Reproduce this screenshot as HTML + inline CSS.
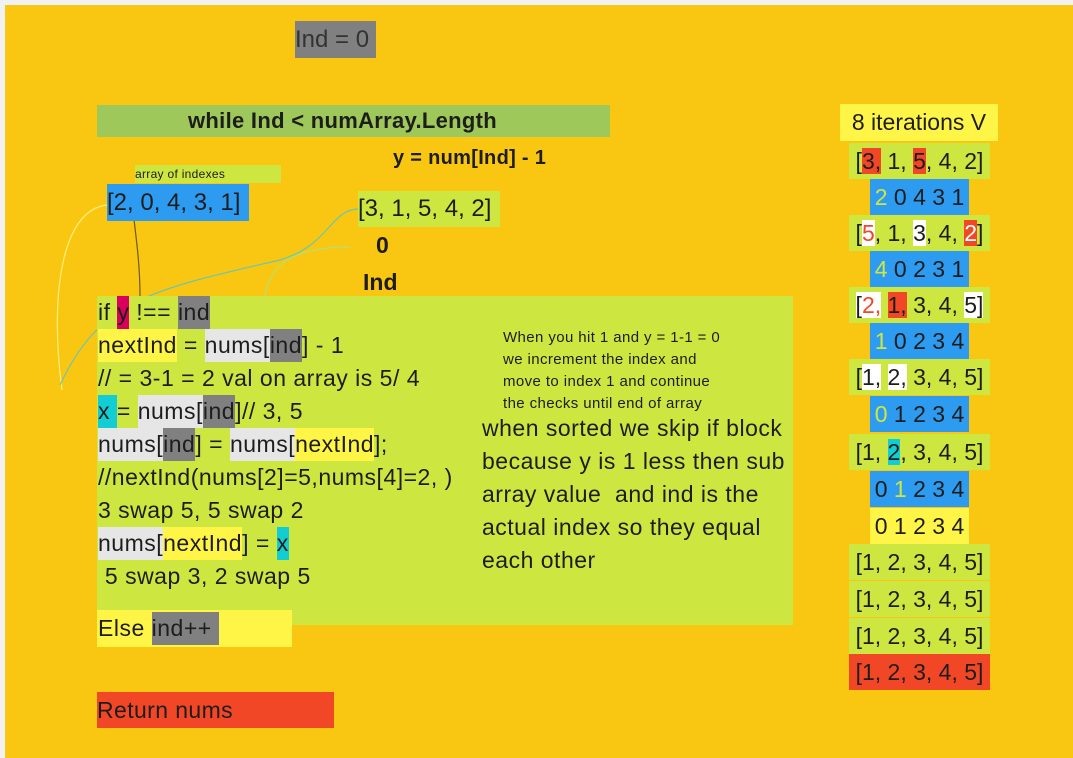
<!DOCTYPE html>
<html><head><meta charset="utf-8"><style>
body{margin:0;width:1073px;height:758px;background:#f1f1f1;position:relative;overflow:hidden;font-family:"Liberation Sans","DejaVu Sans",sans-serif;color:#1d1d1d}
.a{position:absolute;white-space:pre}
.t{font-size:22px}
.g{background:#cee640}.b{background:#2d9bf0}.y{background:#fff546}.gr{background:#808080}.w{background:#e6e6e6}.r{background:#f24726}.wh{background:#fff}
.row{position:absolute;height:36px;line-height:36px;font-size:23px;text-align:center}
.ln{position:absolute;left:98px;font-size:23px;letter-spacing:0.5px;height:33px;line-height:33px;white-space:pre}
.ln span{display:inline-block;height:33px}
</style></head><body>
<div class="a" style="left:5px;top:5px;width:1068px;height:753px;background:#f9c712"></div>
<svg class="a" style="left:0;top:0" width="1073" height="758">
<path d="M107 205 C60 210 50 300 62 390" stroke="#fff07a" stroke-width="1.2" fill="none"/>
<path d="M60 385 C100 300 150 290 280 260 C330 245 330 210 358 209" stroke="#6cc6b0" stroke-width="1.2" fill="none"/>
<path d="M265 296 C270 260 300 247 350 247" stroke="#b4e070" stroke-width="1.2" fill="none"/>
<path d="M131 195 C135 230 140 260 140 296" stroke="#6b5a1a" stroke-width="1.2" fill="none"/>
</svg>
<div class="a gr" style="left:295px;top:21px;width:81px;height:37px;line-height:37px;font-size:24px;color:#333">Ind = 0</div>
<div class="a" style="left:97px;top:105px;width:513px;height:32px;background:#9ec95a"></div>
<div class="a" style="left:188px;top:105px;line-height:32px;font-size:22px;font-weight:bold;letter-spacing:0.3px">while Ind &lt; numArray.Length</div>
<div class="a" style="left:393px;top:147px;font-size:20px;font-weight:bold;letter-spacing:0.3px">y = num[Ind] - 1</div>
<div class="a g" style="left:135px;top:165px;width:146px;height:18px;line-height:18px;font-size:12px;letter-spacing:0.3px">array of indexes</div>
<div class="a b t" style="left:107px;top:184px;width:142px;height:37px;line-height:37px;font-size:24px">[2, 0, 4, 3, 1]</div>
<div class="a g" style="left:358px;top:191px;width:142px;height:36px;line-height:36px;font-size:24px">[3, 1, 5, 4, 2]</div>
<div class="a" style="left:376px;top:232px;font-size:23px;font-weight:bold">0</div>
<div class="a" style="left:363px;top:269px;font-size:23px;font-weight:bold">Ind</div>

<div class="a g" style="left:97px;top:296px;width:696px;height:329px"></div>
<div class="ln" style="top:296px">if <span style="background:#d9005b">y</span> !== <span class="gr">ind</span></div>
<div class="ln" style="top:329px"><span class="y">nextInd</span> = <span class="w">nums[</span><span class="gr">ind</span>] - 1</div>
<div class="ln" style="top:362px">// = 3-1 = 2 val on array is 5/ 4</div>
<div class="ln" style="top:395px"><span style="background:#12cdd4">x </span>= <span class="w">nums[</span><span class="gr">ind</span>]// 3, 5</div>
<div class="ln" style="top:428px"><span class="w">nums[</span><span class="gr">ind</span>] = <span class="w">nums[</span><span class="y">nextInd</span>];</div>
<div class="ln" style="top:461px">//nextInd(nums[2]=5,nums[4]=2, )</div>
<div class="ln" style="top:494px">3 swap 5, 5 swap 2</div>
<div class="ln" style="top:527px"><span class="w">nums[</span><span class="y">nextInd</span>] = <span style="background:#12cdd4">x</span></div>
<div class="ln" style="top:560px"> 5 swap 3, 2 swap 5</div>
<div class="a y" style="left:97px;top:610px;width:195px;height:37px"></div>
<div class="ln" style="top:612px">Else <span class="gr" style="width:67px">ind++</span></div>
<div class="a r" style="left:97px;top:692px;width:237px;height:36px;line-height:36px;font-size:23px;letter-spacing:0.4px">Return nums</div>

<div class="a" style="left:503px;top:327px;font-size:15px;line-height:22px;letter-spacing:0.4px">When you hit 1 and y = 1-1 = 0
we increment the index and
move to index 1 and continue
the checks until end of array</div>
<div class="a" style="left:482px;top:412px;font-size:23px;line-height:33px;letter-spacing:0.5px">when sorted we skip if block
because y is 1 less then sub
array value  and ind is the
actual index so they equal
each other</div>

<div class="row y" style="left:840px;top:104px;width:158px;height:37px;line-height:37px">8 iterations V</div>
<div class="row g" style="left:849px;top:143px;width:141px">[<span class="r">3,</span> 1, <span class="r">5</span>, 4, 2]</div>
<div class="row b" style="left:870px;top:179px;width:99px"><span style="color:#cee640">2</span> 0 4 3 1</div>
<div class="row g" style="left:849px;top:215px;width:141px">[<span class="wh" style="color:#f24726">5</span>, 1, <span class="wh">3</span>, 4, <span class="r" style="color:#fff">2</span>]</div>
<div class="row b" style="left:870px;top:251px;width:99px"><span style="color:#cee640">4</span> 0 2 3 1</div>
<div class="row g" style="left:849px;top:287px;width:141px"><span class="wh">[<span style="color:#f24726">2,</span></span> <span class="r">1,</span> 3, 4, <span class="wh">5]</span></div>
<div class="row b" style="left:870px;top:323px;width:99px"><span style="color:#cee640">1</span> 0 2 3 4</div>
<div class="row g" style="left:849px;top:359px;width:141px">[<span class="wh">1,</span> <span class="wh">2,</span> 3, 4, 5]</div>
<div class="row b" style="left:870px;top:396px;width:99px"><span style="color:#cee640">0</span> 1 2 3 4</div>
<div class="row g" style="left:849px;top:434px;width:141px">[1, <span style="background:#12cdd4">2</span>, 3, 4, 5]</div>
<div class="row b" style="left:870px;top:471px;width:99px">0 <span style="color:#cee640">1</span> 2 3 4</div>
<div class="row y" style="left:870px;top:508px;width:99px">0 1 2 3 4</div>
<div class="row g" style="left:849px;top:544px;width:141px">[1, 2, 3, 4, 5]</div>
<div class="row g" style="left:849px;top:581px;width:141px">[1, 2, 3, 4, 5]</div>
<div class="row g" style="left:849px;top:618px;width:141px">[1, 2, 3, 4, 5]</div>
<div class="row r" style="left:849px;top:654px;width:141px">[1, 2, 3, 4, 5]</div>
</body></html>
